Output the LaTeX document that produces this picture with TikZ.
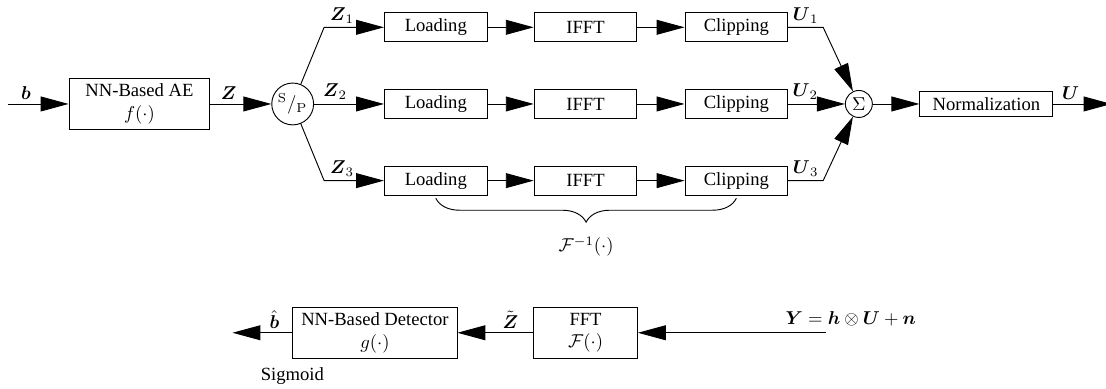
\documentclass[tikz,border=0pt]{standalone}
\usepackage{amsmath, amssymb}
\usepackage[no-math]{fontspec}
\setmainfont{Liberation Serif}
\usepackage{tikz}
\usetikzlibrary{arrows.meta, positioning, calc, decorations.pathreplacing}

\begin{document}
\begin{tikzpicture}[node distance=0.88cm and 0.88cm, line width=0.5pt,
    blk/.style={draw, rectangle, minimum width=1.94cm, minimum height=0.55cm, inner sep=1pt},
    bigblk/.style={draw, rectangle, minimum height=0.96cm, align=center, inner sep=1pt},
    junc/.style={draw, circle, inner sep=0pt},
    sig/.style={-{Triangle[length=15pt, width=8pt]}},
    lbl/.style={pos=0.3, above, inner sep=2pt}]
        \useasboundingbox (-2.634,1.963) rectangle (18.25,-5.381);
        % Nodes
        \node[bigblk, minimum width=2.66cm] (AE) {NN-Based AE\\ $f(\cdot)$};
        \coordinate[left=1.15cm of AE.west] (bin);
        \node[junc, minimum size=0.79cm, right=1.15cm of AE] (SP) {$^{\mathrm{S}}/_{\mathrm{P}}$};
        \node[blk, right=1.32cm of SP] (Load2) {Loading};
        \node[blk, above=of Load2] (Load1) {Loading};
        \node[blk, below=of Load2] (Load3) {Loading};
        \node[blk, right=0.87cm of Load1] (IFFT1) {IFFT};
        \node[blk, right=0.87cm of Load2] (IFFT2) {IFFT};
        \node[blk, right=0.87cm of Load3] (IFFT3) {IFFT};
        \node[blk, right=0.89cm of IFFT1] (Clip1) {Clipping};
        \node[blk, right=0.89cm of IFFT2] (Clip2) {Clipping};
        \node[blk, right=0.89cm of IFFT3] (Clip3) {Clipping};
        \node[junc, minimum size=0.51cm, right=1.07cm of Clip2] (Sum) {$\Sigma$};
        \node[blk, minimum width=2.51cm, minimum height=0.49cm, right=of Sum] (Norm) {Normalization};
        \coordinate[right=1.1cm of Norm.east] (Uout);
        % Corners
        \coordinate[left=1.13cm of Load1.west] (Zc1);
        \coordinate[left=1.13cm of Load3.west] (Zc3);
        \coordinate[right=0.66cm of Clip1.east] (Uc1);
        \coordinate[right=0.66cm of Clip3.east] (Uc3);
        % Receiver
        \node[bigblk, minimum width=1.96cm, below=2.1cm of IFFT3] (FFT) {FFT\\ $\mathcal{F}(\cdot)$};
        \node[bigblk, minimum width=3.1cm, left=1.43cm of FFT] (Det) {NN-Based Detector\\ $g(\cdot)$};
        \coordinate[right=3.55cm of FFT.east] (Yin);
        \coordinate[left=1.13cm of Det.west] (bhat);
        \node at ($(Yin)+(0.47,0.26)$) (Ylbl) {$\boldsymbol{Y} = \boldsymbol{h} \otimes \boldsymbol{U} + \boldsymbol{n}$};
        \node[below=0.05cm of Det.south west] (Sigm) {Sigmoid};
        % Arrows
        \draw[sig] (bin) -- (AE) node[lbl] {$\boldsymbol{b}$};
        \draw[sig] (AE) -- (SP) node[lbl] {$\boldsymbol{Z}$};
        \draw[sig] (SP) -- (Zc1) -- (Load1) node[lbl] {$\boldsymbol{Z}_1$};
        \draw[sig] (SP) -- (Load2) node[lbl] {$\boldsymbol{Z}_2$};
        \draw[sig] (SP) -- (Zc3) -- (Load3) node[lbl] {$\boldsymbol{Z}_3$};
        \draw[sig] (Load1) -- (IFFT1);
        \draw[sig] (Load2) -- (IFFT2);
        \draw[sig] (Load3) -- (IFFT3);
        \draw[sig] (IFFT1) -- (Clip1);
        \draw[sig] (IFFT2) -- (Clip2);
        \draw[sig] (IFFT3) -- (Clip3);
        \draw[sig] (Clip1) -- (Uc1) node[lbl, pos=0.5] {$\boldsymbol{U}_1$} -- (Sum);
        \draw[sig] (Clip2) -- (Sum) node[lbl] {$\boldsymbol{U}_2$};
        \draw[sig] (Clip3) -- (Uc3) node[lbl, pos=0.5] {$\boldsymbol{U}_3$} -- (Sum);
        \draw[sig] (Sum) -- (Norm);
        \draw[sig] (Norm) -- (Uout) node[lbl] {$\boldsymbol{U}$};
        \draw[sig] (Yin) -- (FFT);
        \draw[sig] (FFT) -- (Det) node[lbl] {$\tilde{\boldsymbol{Z}}$};
        \draw[sig] (Det) -- (bhat) node[lbl] {$\hat{\boldsymbol{b}}$};
        % Brace
        \draw[decorate, decoration={brace, mirror, amplitude=0.45cm}] ([yshift=-0.05cm]Load3.south) -- ([yshift=-0.05cm]Clip3.south) node[midway, below=0.6cm] {$\mathcal{F}^{-1}(\cdot)$};
    \end{tikzpicture}
\end{document}
